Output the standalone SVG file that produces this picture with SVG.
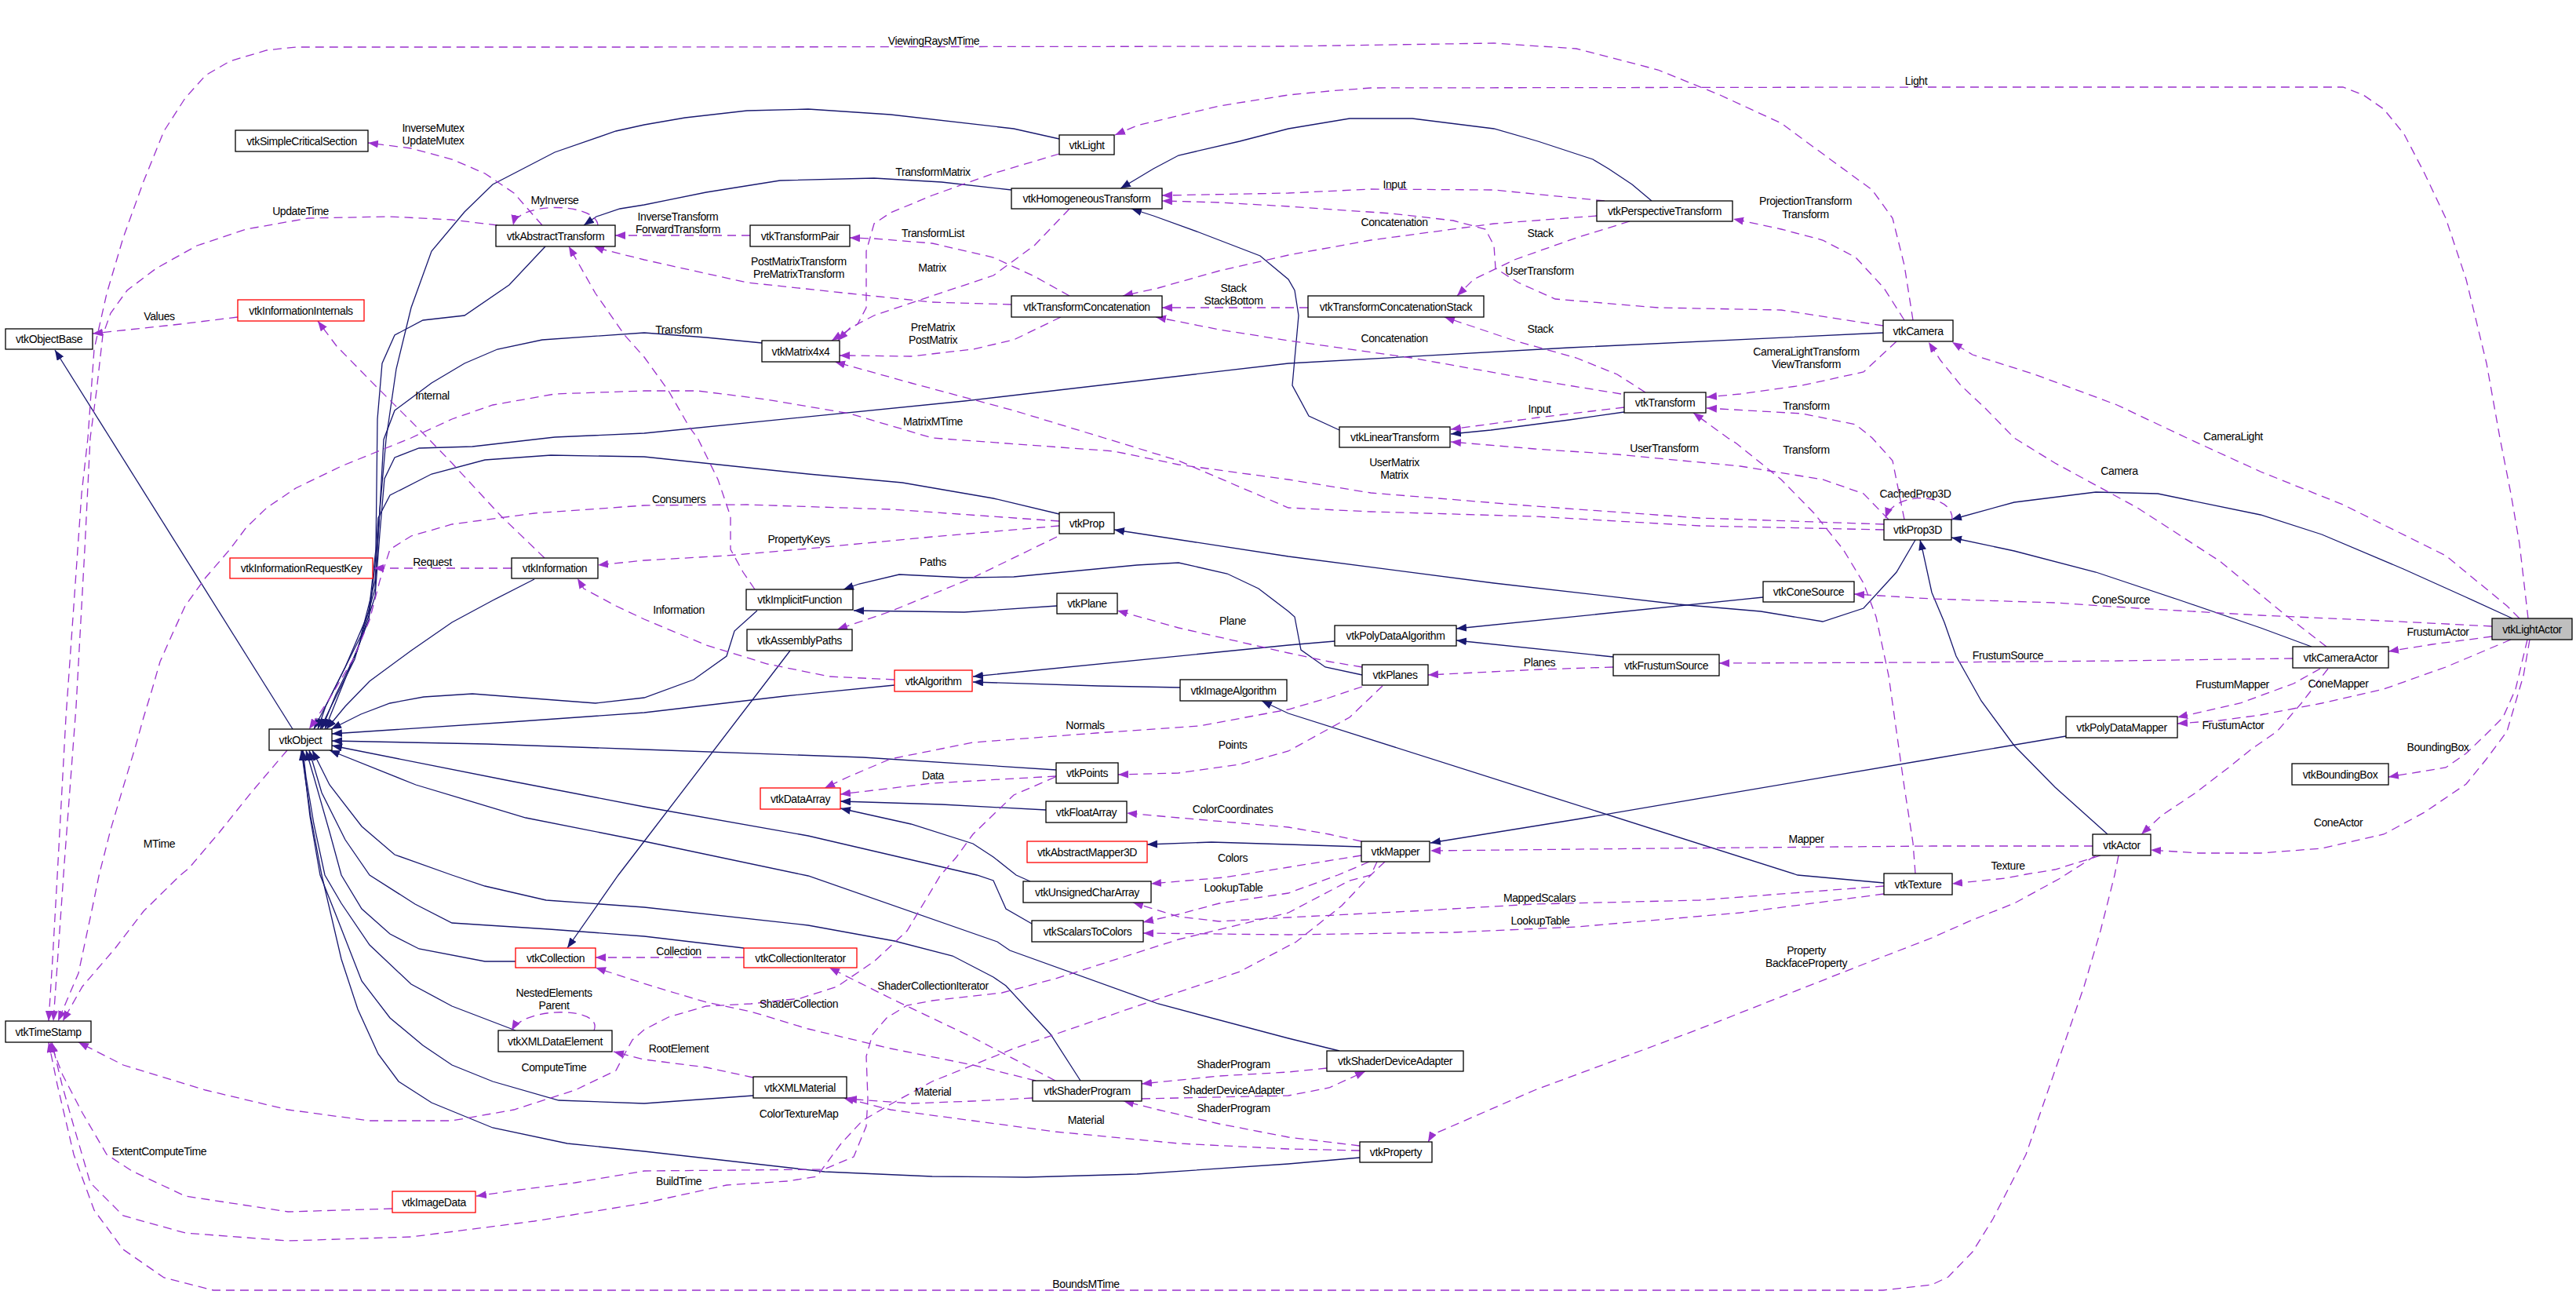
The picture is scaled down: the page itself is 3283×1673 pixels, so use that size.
<svg xmlns="http://www.w3.org/2000/svg" width="3283" height="1673" viewBox="0 0 3283 1673">
<defs>
<style>
.n rect{fill:#fff;stroke:#000;stroke-width:1.3}
.r rect{fill:#fff;stroke:#ff0000;stroke-width:1.3}
.g rect{fill:#bfbfbf;stroke:#000;stroke-width:1.3}
text{font-family:"Liberation Sans",Arial,sans-serif;font-size:14px;letter-spacing:-0.4px;text-anchor:middle;fill:#000}
.i{fill:none;stroke:#191970;stroke-width:1.3;marker-end:url(#ai)}
.u{fill:none;stroke:#9a32cd;stroke-width:1.3;stroke-dasharray:11,7;marker-end:url(#au)}
</style>
<marker id="ai" markerWidth="14" markerHeight="12" refX="13" refY="5" orient="auto" markerUnits="userSpaceOnUse"><path d="M0,0 L13,5 L0,10 z" fill="#191970"/></marker>
<marker id="au" markerWidth="14" markerHeight="12" refX="13" refY="5" orient="auto" markerUnits="userSpaceOnUse"><path d="M0,0 L13,5 L0,10 z" fill="#9a32cd"/></marker>
</defs>
<rect x="0" y="0" width="3283" height="1673" fill="#fff"/>
<g id="connectors">
<!-- inheritance -->
<path class="i" d="M373,929 L70,446"/>
<path class="i" d="M1350,177 L1292,164 1135,146 1030,139 952,141 873,150 821,159 785,167 707,194 628,235 592,270 550,320 524,392 505,470 492,560 484,650 478,740 460,810 430,870 400,929"/>
<path class="i" d="M695,314 L649,363 592,402 539,408 503,427 487,463 481,534 480,620 479,700 470,780 440,850 415,900 405,929"/>
<path class="i" d="M1289,242 L1200,232 1114,227 994,230 900,245 821,261 790,266 760,276 744,287"/>
<path class="i" d="M2105,256 L2080,235 2050,215 2030,203 1960,180 1904,164 1800,151 1720,151 1642,164 1580,180 1502,198 1470,215 1445,230 1428,240"/>
<path class="i" d="M1707,548 L1668,530 1647,491 1655,402 1650,370 1642,356 1606,326 1528,296 1470,275 1442,266"/>
<path class="i" d="M2070,525 L2000,535 1900,548 1849,553"/>
<path class="i" d="M2400,424 L2000,443 1642,463 1229,511 821,552 707,557 602,569 534,571 503,583 490,610 484,680 478,760 455,830 428,885 410,929"/>
<path class="i" d="M971,437 L900,430 821,424 691,433 634,445 592,463 550,488 503,523 489,560 484,650 478,750 452,840 422,900 408,929"/>
<path class="i" d="M1350,655 L1266,635 1150,615 1030,604 821,582 702,580 618,586 550,604 497,631 482,660 478,720 470,790 442,860 414,929"/>
<path class="i" d="M681,738 L628,765 576,793 524,829 471,868 440,900 416,929"/>
<path class="i" d="M965,778 L936,804 926,836 884,866 821,889 759,896 602,884 540,888 497,896 460,910 422,929"/>
<path class="i" d="M1140,873 L1000,887 821,908 650,920 423,935"/>
<path class="i" d="M1346,981 L1100,965 821,955 620,948 423,944"/>
<path class="i" d="M1315,1177 L1282,1158 1266,1122 1245,1115 1030,1065 821,1028 650,995 423,950"/>
<path class="i" d="M1707,1339 L1642,1323 1476,1279 1287,1211 1271,1200 1030,1116 821,1072 670,1042 530,1000 420,956"/>
<path class="i" d="M657,1225 L618,1225 534,1209 497,1190 461,1158 435,1115 420,1060 400,990 390,956"/>
<path class="i" d="M948,1208 L821,1193 700,1184 576,1176 529,1152 471,1115 440,1070 410,1010 394,956"/>
<path class="i" d="M657,1313 L576,1282 524,1254 471,1204 435,1151 414,1115 400,1050 390,990 386,956"/>
<path class="i" d="M960,1396 L821,1406 712,1402 628,1378 576,1357 539,1332 497,1297 461,1250 429,1168 408,1115 395,1040 385,956"/>
<path class="i" d="M1377,1377 L1339,1318 1282,1256 1266,1245 1214,1218 1140,1199 1030,1179 821,1156 696,1147 618,1129 576,1115 503,1089 461,1053 420,1000 398,956"/>
<path class="i" d="M1733,1475 L1642,1483 1449,1496 1308,1500 1188,1499 1051,1493 821,1467 723,1457 628,1437 550,1405 508,1378 482,1343 456,1286 435,1222 410,1115 396,1040 384,956"/>
<path class="i" d="M1007,829 L821,1072 788,1115 723,1208"/>
<path class="i" d="M1347,772 L1229,780 1088,778"/>
<path class="i" d="M1736,860 L1689,850 1658,828 1650,786 1642,779 1604,750 1564,731 1502,717 1449,720 1292,735 1229,736 1146,732 1095,744 1075,751"/>
<path class="i" d="M1701,817 L1642,822 1240,862"/>
<path class="i" d="M1504,876 L1400,874 1240,869"/>
<path class="i" d="M2247,761 L1856,801"/>
<path class="i" d="M2056,837 L1856,816"/>
<path class="i" d="M2441,688 L2417,729 2375,775 2323,792 2244,779 2139,770 1904,743 1642,709 1420,675"/>
<path class="i" d="M1333,1032 L1200,1025 1071,1021"/>
<path class="i" d="M1313,1123 L1295,1115 1266,1092 1240,1075 1161,1050 1071,1030"/>
<path class="i" d="M1735,1079 L1642,1076 1544,1073 1462,1076"/>
<path class="i" d="M2633,938 L2462,967 2009,1044 1823,1074"/>
<path class="i" d="M2401,1125 L2291,1115 1642,909 1608,893"/>
<path class="i" d="M2686,1063 L2619,1003 2567,950 2525,893 2493,836 2478,793 2462,755 2450,700 2447,688"/>
<path class="i" d="M2946,824 L2881,800 2776,764 2671,729 2567,702 2487,685"/>
<path class="i" d="M3202,788 L3143,761 3063,725 2959,681 2881,656 2750,629 2671,627 2567,640 2487,662"/>
<!-- usage -->
<path class="u" d="M2438,408 L2427,338 2412,278 2386,242 2338,207 2270,157 2192,121 2113,89 2009,62 1904,55 1642,59 821,60 377,60 340,64 293,78 262,96 236,125 209,167 183,231 157,303 136,374 120,445 112,558 104,629 94,772 84,914 73,1116 67,1222 62,1301"/>
<path class="u" d="M3222,788 L3211,693 3200,629 3186,558 3169,463 3143,356 3117,278 3090,221 3064,171 3038,139 3012,121 2986,111 2462,111 1747,112 1694,116 1642,121 1554,135 1449,160 1421,172"/>
<path class="u" d="M691,287 L655,246 618,221 576,203 524,189 469,182"/>
<path class="u" d="M762,287 C760,258 660,256 654,287"/>
<path class="u" d="M634,287 L576,280 497,276 393,278 314,292 251,313 199,342 162,370 141,399 131,427 123,498 115,558 108,700 97,900 82,1100 68,1301"/>
<path class="u" d="M303,404 L230,413 118,425"/>
<path class="u" d="M956,300 L784,300"/>
<path class="u" d="M1289,388 L1188,385 1083,374 952,360 821,331 765,317 757,314"/>
<path class="u" d="M962,751 L947,729 931,700 931,658 915,611 889,558 879,545 852,498 821,455 796,427 759,374 725,314"/>
<path class="u" d="M694,711 L639,658 576,590 545,558 471,484 429,441 405,409"/>
<path class="u" d="M652,724 L476,724"/>
<path class="u" d="M1350,664 L1135,649 952,643 821,644 681,654 576,668 524,683 497,700 484,740 471,790 450,840 420,890 394,929"/>
<path class="u" d="M1350,670 L1188,684 1030,699 926,708 821,714 762,720"/>
<path class="u" d="M1347,684 L1240,736 1135,779 1067,802"/>
<path class="u" d="M1140,866 L1057,862 978,846 900,822 821,789 785,772 744,750 736,737"/>
<path class="u" d="M1736,850 L1694,843 1642,832 1502,800 1424,778"/>
<path class="u" d="M1736,875 L1694,889 1642,904 1528,925 1397,934 1240,946 1135,967 1083,989 1051,1004"/>
<path class="u" d="M1762,874 L1720,914 1642,957 1580,974 1502,985 1425,987"/>
<path class="u" d="M1346,989 L1188,998 1071,1012"/>
<path class="u" d="M1735,1072 L1694,1063 1642,1054 1502,1042 1436,1036"/>
<path class="u" d="M1735,1090 L1642,1105 1560,1118 1467,1126"/>
<path class="u" d="M1745,1098 L1705,1115 1642,1138 1554,1151 1502,1165 1457,1175"/>
<path class="u" d="M2401,1129 L2166,1147 1956,1152 1799,1161 1642,1169 1554,1174 1502,1168 1444,1150"/>
<path class="u" d="M2401,1139 L2218,1163 2009,1181 1852,1188 1642,1191 1457,1189"/>
<path class="u" d="M1755,1098 L1747,1115 1720,1122 1642,1163 1502,1197 1345,1247 1277,1265 1188,1275 1156,1281 1130,1297 1112,1318 1104,1346 1106,1400 1104,1435 1088,1474 1050,1490 821,1492 733,1507 655,1517 607,1524"/>
<path class="u" d="M1765,1098 L1747,1115 1710,1154 1652,1200 1580,1238 1449,1282 1292,1336 1188,1378 1135,1407 1099,1428 1072,1457 1041,1499 1004,1505 926,1510 821,1533 681,1556 524,1576 367,1581 236,1571 157,1549 115,1507 94,1435 79,1382 66,1328"/>
<path class="u" d="M500,1540 L367,1544 236,1524 168,1492 136,1471 105,1418 80,1370 64,1328"/>
<path class="u" d="M2700,1090 L2695,1115 2677,1186 2656,1257 2619,1364 2582,1471 2540,1553 2514,1595 2483,1627 2462,1637 2400,1644 272,1644 209,1628 157,1592 120,1542 94,1471 73,1382 62,1328"/>
<path class="u" d="M1345,990 L1292,1013 1266,1038 1240,1063 1219,1092 1198,1116 1182,1143 1156,1186 1114,1225 1067,1257 1020,1272 957,1279 900,1282 852,1296 821,1312 806,1325 796,1343 785,1364 733,1389 655,1414 576,1428 471,1428 367,1414 262,1389 157,1357 100,1328"/>
<path class="u" d="M366,956 L320,1010 280,1060 241,1106 230,1115 183,1161 147,1208 105,1257 80,1301"/>
<path class="u" d="M2401,668 L2166,660 1956,645 1747,628 1642,611 1502,592 1420,575 1188,558 1083,527 977,509 889,498 821,498 707,502 628,516 576,534 524,558 435,594 377,622 340,647 314,672 293,700 262,736 236,772 220,807 204,843 194,878 183,914 173,950 157,1003 141,1057 126,1116 117,1160 100,1240 74,1301"/>
<path class="u" d="M2401,675 L2166,670 1956,658 1747,652 1642,647 1502,587 1407,558 1292,523 1161,488 1064,461"/>
<path class="u" d="M1350,196 L1266,221 1188,249 1135,271 1114,285 1104,320 1104,356 1104,392 1093,413 1060,434"/>
<path class="u" d="M1363,266 L1318,313 1266,351 1188,377 1114,402 1083,418 1068,434"/>
<path class="u" d="M1352,404 L1292,433 1240,445 1161,454 1083,453 1070,453"/>
<path class="u" d="M1363,377 L1318,352 1266,328 1188,310 1114,304 1083,303"/>
<path class="u" d="M1667,392 L1481,392"/>
<path class="u" d="M2066,502 L1956,484 1799,456 1642,434 1554,420 1473,404"/>
<path class="u" d="M2097,500 L2061,477 2009,456 1930,434 1841,404"/>
<path class="u" d="M2077,282 L2009,303 1930,331 1878,356 1857,377"/>
<path class="u" d="M2035,275 L1904,285 1747,306 1642,325 1554,345 1476,367 1431,377"/>
<path class="u" d="M2045,256 L1904,242 1747,241 1642,246 1481,249"/>
<path class="u" d="M2400,415 L2270,395 2113,392 1982,381 1935,360 1906,342 1904,313 1893,292 1852,281 1773,272 1642,263 1554,258 1481,256"/>
<path class="u" d="M2427,408 L2401,367 2365,328 2323,306 2270,292 2209,279"/>
<path class="u" d="M2417,435 L2375,474 2297,491 2218,502 2175,506"/>
<path class="u" d="M2427,662 L2412,587 2386,558 2365,541 2297,527 2175,520"/>
<path class="u" d="M2441,1113 L2438,1074 2427,1003 2417,932 2407,861 2391,786 2375,743 2349,700 2312,654 2270,611 2213,565 2202,558 2158,526"/>
<path class="u" d="M2070,519 L1960,532 1849,547"/>
<path class="u" d="M2407,662 L2375,629 2323,611 2218,594 2061,579 1956,572 1849,563"/>
<path class="u" d="M2488,662 C2490,628 2415,624 2403,660"/>
<path class="u" d="M2965,824 L2907,779 2829,715 2724,647 2619,590 2567,558 2530,520 2499,491 2473,459 2458,436"/>
<path class="u" d="M3211,788 L3195,772 3117,708 2986,643 2881,601 2787,558 2698,516 2593,477 2514,452 2488,436"/>
<path class="u" d="M3176,798 L3038,791 2881,784 2724,775 2619,768 2462,763 2396,759 2363,757"/>
<path class="u" d="M3176,811 L3100,821 3044,830"/>
<path class="u" d="M2922,839 L2700,842 2462,844 2191,845"/>
<path class="u" d="M2957,852 L2923,871 2855,896 2775,914"/>
<path class="u" d="M3200,815 L3117,850 3038,878 2959,896 2881,911 2829,918 2775,922"/>
<path class="u" d="M2967,852 L2933,896 2902,932 2870,954 2839,979 2797,1011 2755,1039 2729,1063"/>
<path class="u" d="M3221,815 L3206,878 3190,914 3169,935 3143,960 3117,978 3044,990"/>
<path class="u" d="M3224,815 L3216,861 3195,932 3169,967 3143,999 3090,1035 3038,1063 2959,1081 2881,1087 2802,1087 2741,1083"/>
<path class="u" d="M2667,1078 L2462,1078 2113,1081 1823,1084"/>
<path class="u" d="M2677,1090 L2619,1108 2582,1114 2556,1119 2488,1126"/>
<path class="u" d="M2671,1090 L2624,1120 2567,1151 2514,1172 2462,1195 2374,1229 2166,1311 1956,1389 1825,1446 1820,1455"/>
<path class="u" d="M2056,850 L1962,853 1820,860"/>
<path class="u" d="M948,1220 L821,1220 759,1220"/>
<path class="u" d="M1320,1377 L1240,1357 1135,1336 1030,1311 957,1289 900,1277 863,1266 817,1252 759,1233"/>
<path class="u" d="M1345,1377 L1240,1322 1135,1272 1057,1233"/>
<path class="u" d="M960,1373 L900,1360 821,1350 782,1340"/>
<path class="u" d="M757,1313 C770,1283 670,1281 652,1313"/>
<path class="u" d="M1316,1399 L1240,1403 1161,1406 1079,1400"/>
<path class="u" d="M1733,1466 L1642,1464 1502,1457 1345,1442 1240,1428 1135,1414 1075,1399"/>
<path class="u" d="M1691,1361 L1642,1366 1554,1371 1455,1381"/>
<path class="u" d="M1455,1400 L1642,1396 1694,1386 1740,1365"/>
<path class="u" d="M1733,1460 L1642,1449 1554,1432 1476,1414 1432,1403"/>
<!-- labels -->
<text x="1190" y="57">ViewingRaysMTime</text>
<text x="2442" y="108">Light</text>
<text x="552" y="168">InverseMutex</text>
<text x="552" y="184">UpdateMutex</text>
<text x="707" y="260">MyInverse</text>
<text x="383" y="274">UpdateTime</text>
<text x="203" y="408">Values</text>
<text x="864" y="281">InverseTransform</text>
<text x="864" y="297">ForwardTransform</text>
<text x="1189" y="224">TransformMatrix</text>
<text x="1189" y="302">TransformList</text>
<text x="1018" y="338">PostMatrixTransform</text>
<text x="1018" y="354">PreMatrixTransform</text>
<text x="1188" y="346">Matrix</text>
<text x="1572" y="372">Stack</text>
<text x="1572" y="388">StackBottom</text>
<text x="865" y="425">Transform</text>
<text x="1189" y="422">PreMatrix</text>
<text x="1189" y="438">PostMatrix</text>
<text x="1189" y="542">MatrixMTime</text>
<text x="1777" y="240">Input</text>
<text x="1777" y="288">Concatenation</text>
<text x="1963" y="302">Stack</text>
<text x="2301" y="261">ProjectionTransform</text>
<text x="2301" y="278">Transform</text>
<text x="1962" y="350">UserTransform</text>
<text x="1963" y="424">Stack</text>
<text x="1777" y="436">Concatenation</text>
<text x="2302" y="453">CameraLightTransform</text>
<text x="2302" y="469">ViewTransform</text>
<text x="2302" y="522">Transform</text>
<text x="1962" y="526">Input</text>
<text x="551" y="509">Internal</text>
<text x="2846" y="561">CameraLight</text>
<text x="2121" y="576">UserTransform</text>
<text x="2302" y="578">Transform</text>
<text x="1777" y="594">UserMatrix</text>
<text x="1777" y="610">Matrix</text>
<text x="2441" y="634">CachedProp3D</text>
<text x="2701" y="605">Camera</text>
<text x="865" y="641">Consumers</text>
<text x="1018" y="692">PropertyKeys</text>
<text x="551" y="721">Request</text>
<text x="1189" y="721">Paths</text>
<text x="2703" y="769">ConeSource</text>
<text x="865" y="782">Information</text>
<text x="1571" y="796">Plane</text>
<text x="3107" y="810">FrustumActor</text>
<text x="2559" y="840">FrustumSource</text>
<text x="1962" y="849">Planes</text>
<text x="2845" y="877">FrustumMapper</text>
<text x="2980" y="876">ConeMapper</text>
<text x="1383" y="929">Normals</text>
<text x="2846" y="929">FrustumActor</text>
<text x="1571" y="954">Points</text>
<text x="3107" y="957">BoundingBox</text>
<text x="1189" y="993">Data</text>
<text x="1571" y="1036">ColorCoordinates</text>
<text x="2980" y="1053">ConeActor</text>
<text x="2302" y="1074">Mapper</text>
<text x="203" y="1080">MTime</text>
<text x="1571" y="1098">Colors</text>
<text x="2559" y="1108">Texture</text>
<text x="1572" y="1136">LookupTable</text>
<text x="1962" y="1149">MappedScalars</text>
<text x="1963" y="1178">LookupTable</text>
<text x="2302" y="1216">Property</text>
<text x="2302" y="1232">BackfaceProperty</text>
<text x="865" y="1217">Collection</text>
<text x="1189" y="1261">ShaderCollectionIterator</text>
<text x="706" y="1270">NestedElements</text>
<text x="706" y="1286">Parent</text>
<text x="1018" y="1284">ShaderCollection</text>
<text x="865" y="1341">RootElement</text>
<text x="1572" y="1361">ShaderProgram</text>
<text x="706" y="1365">ComputeTime</text>
<text x="1572" y="1394">ShaderDeviceAdapter</text>
<text x="1189" y="1396">Material</text>
<text x="1572" y="1417">ShaderProgram</text>
<text x="1018" y="1424">ColorTextureMap</text>
<text x="1384" y="1432">Material</text>
<text x="203" y="1472">ExtentComputeTime</text>
<text x="865" y="1510">BuildTime</text>
<text x="1384" y="1641">BoundsMTime</text>
</g>
<g id="vtkLightActor" class="g"><rect x="3176" y="788" width="102" height="27"/><text x="3227" y="806.5">vtkLightActor</text></g>
<g id="vtkObjectBase" class="n"><rect x="7" y="419" width="111" height="26"/><text x="62.5" y="437">vtkObjectBase</text></g>
<g id="vtkSimpleCriticalSection" class="n"><rect x="300" y="166" width="169" height="27"/><text x="384.5" y="184.5">vtkSimpleCriticalSection</text></g>
<g id="vtkAbstractTransform" class="n"><rect x="632" y="287" width="152" height="27"/><text x="708" y="305.5">vtkAbstractTransform</text></g>
<g id="vtkInformationInternals" class="r"><rect x="303" y="382" width="161" height="27"/><text x="383.5" y="400.5">vtkInformationInternals</text></g>
<g id="vtkLight" class="n"><rect x="1350" y="172" width="70" height="25"/><text x="1385" y="189.5">vtkLight</text></g>
<g id="vtkHomogeneousTransform" class="n"><rect x="1289" y="240" width="192" height="26"/><text x="1385" y="258">vtkHomogeneousTransform</text></g>
<g id="vtkTransformPair" class="n"><rect x="956" y="287" width="127" height="27"/><text x="1019.5" y="305.5">vtkTransformPair</text></g>
<g id="vtkTransformConcatenation" class="n"><rect x="1289" y="377" width="192" height="27"/><text x="1385" y="395.5">vtkTransformConcatenation</text></g>
<g id="vtkMatrix4x4" class="n"><rect x="971" y="434" width="99" height="27"/><text x="1020.5" y="452.5">vtkMatrix4x4</text></g>
<g id="vtkPerspectiveTransform" class="n"><rect x="2035" y="256" width="173" height="26"/><text x="2121.5" y="274">vtkPerspectiveTransform</text></g>
<g id="vtkTransformConcatenationStack" class="n"><rect x="1667" y="377" width="224" height="27"/><text x="1779" y="395.5">vtkTransformConcatenationStack</text></g>
<g id="vtkCamera" class="n"><rect x="2400" y="408" width="89" height="27"/><text x="2444.5" y="426.5">vtkCamera</text></g>
<g id="vtkTransform" class="n"><rect x="2070" y="500" width="104" height="26"/><text x="2122" y="518">vtkTransform</text></g>
<g id="vtkLinearTransform" class="n"><rect x="1707" y="544" width="141" height="26"/><text x="1777.5" y="562">vtkLinearTransform</text></g>
<g id="vtkInformationRequestKey" class="r"><rect x="293" y="711" width="182" height="26"/><text x="384" y="729">vtkInformationRequestKey</text></g>
<g id="vtkInformation" class="n"><rect x="652" y="711" width="110" height="26"/><text x="707" y="729">vtkInformation</text></g>
<g id="vtkObject" class="n"><rect x="343" y="929" width="80" height="27"/><text x="383" y="947.5">vtkObject</text></g>
<g id="vtkProp" class="n"><rect x="1350" y="653" width="70" height="27"/><text x="1385" y="671.5">vtkProp</text></g>
<g id="vtkImplicitFunction" class="n"><rect x="951" y="751" width="136" height="26"/><text x="1019" y="769">vtkImplicitFunction</text></g>
<g id="vtkPlane" class="n"><rect x="1347" y="756" width="77" height="26"/><text x="1385.5" y="774">vtkPlane</text></g>
<g id="vtkAssemblyPaths" class="n"><rect x="952" y="802" width="134" height="27"/><text x="1019" y="820.5">vtkAssemblyPaths</text></g>
<g id="vtkAlgorithm" class="r"><rect x="1140" y="854" width="99" height="27"/><text x="1189.5" y="872.5">vtkAlgorithm</text></g>
<g id="vtkImageAlgorithm" class="n"><rect x="1504" y="866" width="136" height="27"/><text x="1572" y="884.5">vtkImageAlgorithm</text></g>
<g id="vtkPoints" class="n"><rect x="1346" y="972" width="79" height="26"/><text x="1385.5" y="990">vtkPoints</text></g>
<g id="vtkDataArray" class="r"><rect x="969" y="1004" width="102" height="27"/><text x="1020" y="1022.5">vtkDataArray</text></g>
<g id="vtkFloatArray" class="n"><rect x="1333" y="1021" width="103" height="27"/><text x="1384.5" y="1039.5">vtkFloatArray</text></g>
<g id="vtkAbstractMapper3D" class="r"><rect x="1309" y="1072" width="153" height="27"/><text x="1385.5" y="1090.5">vtkAbstractMapper3D</text></g>
<g id="vtkProp3D" class="n"><rect x="2401" y="662" width="86" height="26"/><text x="2444" y="680">vtkProp3D</text></g>
<g id="vtkConeSource" class="n"><rect x="2247" y="741" width="116" height="26"/><text x="2305" y="759">vtkConeSource</text></g>
<g id="vtkPolyDataAlgorithm" class="n"><rect x="1701" y="797" width="155" height="26"/><text x="1778.5" y="815">vtkPolyDataAlgorithm</text></g>
<g id="vtkFrustumSource" class="n"><rect x="2056" y="834" width="135" height="27"/><text x="2123.5" y="852.5">vtkFrustumSource</text></g>
<g id="vtkPlanes" class="n"><rect x="1736" y="847" width="84" height="26"/><text x="1778" y="865">vtkPlanes</text></g>
<g id="vtkMapper" class="n"><rect x="1735" y="1072" width="87" height="26"/><text x="1778.5" y="1090">vtkMapper</text></g>
<g id="vtkCameraActor" class="n"><rect x="2922" y="824" width="122" height="27"/><text x="2983" y="842.5">vtkCameraActor</text></g>
<g id="vtkPolyDataMapper" class="n"><rect x="2633" y="913" width="142" height="27"/><text x="2704" y="931.5">vtkPolyDataMapper</text></g>
<g id="vtkBoundingBox" class="n"><rect x="2921" y="973" width="123" height="27"/><text x="2982.5" y="991.5">vtkBoundingBox</text></g>
<g id="vtkActor" class="n"><rect x="2667" y="1063" width="74" height="27"/><text x="2704" y="1081.5">vtkActor</text></g>
<g id="vtkCollection" class="r"><rect x="657" y="1208" width="102" height="25"/><text x="708" y="1225.5">vtkCollection</text></g>
<g id="vtkTimeStamp" class="n"><rect x="7" y="1301" width="109" height="27"/><text x="61.5" y="1319.5">vtkTimeStamp</text></g>
<g id="vtkXMLDataElement" class="n"><rect x="635" y="1313" width="145" height="27"/><text x="707.5" y="1331.5">vtkXMLDataElement</text></g>
<g id="vtkImageData" class="r"><rect x="500" y="1518" width="106" height="27"/><text x="553" y="1536.5">vtkImageData</text></g>
<g id="vtkUnsignedCharArray" class="n"><rect x="1304" y="1123" width="163" height="27"/><text x="1385.5" y="1141.5">vtkUnsignedCharArray</text></g>
<g id="vtkScalarsToColors" class="n"><rect x="1315" y="1173" width="142" height="27"/><text x="1386" y="1191.5">vtkScalarsToColors</text></g>
<g id="vtkCollectionIterator" class="r"><rect x="948" y="1208" width="144" height="25"/><text x="1020" y="1225.5">vtkCollectionIterator</text></g>
<g id="vtkXMLMaterial" class="n"><rect x="960" y="1372" width="119" height="27"/><text x="1019.5" y="1390.5">vtkXMLMaterial</text></g>
<g id="vtkShaderProgram" class="n"><rect x="1316" y="1377" width="139" height="26"/><text x="1385.5" y="1395">vtkShaderProgram</text></g>
<g id="vtkTexture" class="n"><rect x="2401" y="1113" width="87" height="27"/><text x="2444.5" y="1131.5">vtkTexture</text></g>
<g id="vtkShaderDeviceAdapter" class="n"><rect x="1691" y="1339" width="174" height="26"/><text x="1778" y="1357">vtkShaderDeviceAdapter</text></g>
<g id="vtkProperty" class="n"><rect x="1733" y="1455" width="92" height="26"/><text x="1779" y="1473">vtkProperty</text></g>
</svg>
